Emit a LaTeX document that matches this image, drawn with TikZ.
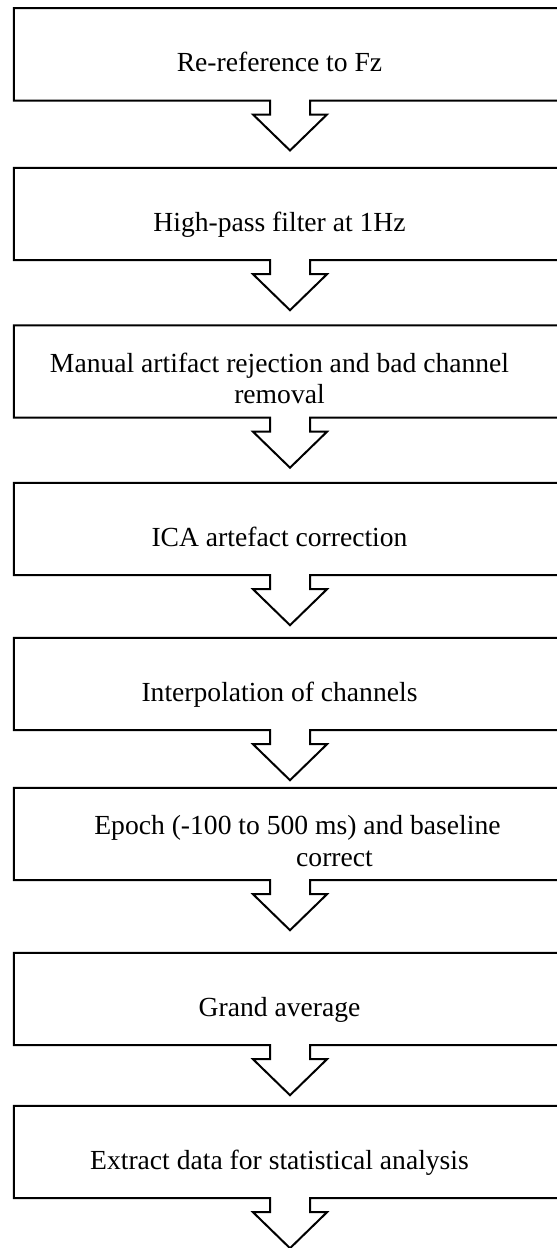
\documentclass[tikz,border=0pt]{standalone}
\usepackage{fontspec}
\setmainfont{Liberation Serif}
\usetikzlibrary{calc}
\begin{document}
\begin{tikzpicture}[x=1pt,y=-1pt,
  stepbox/.style={draw=none, inner sep=0pt, minimum width=531pt, minimum height=92pt,
    font=\fontsize{27.6}{31.6}\selectfont, text height=54.3pt, text depth=20pt},
  twobox/.style={stepbox, align=center, text height=70pt, text depth=5.3pt},
  outline/.style={draw=black, line width=2pt, line join=miter}]
\useasboundingbox (0,0) rectangle (557,1248);
\node[stepbox] (b1) at (279.5,54.3) {Re-reference to Fz};
\node[stepbox] (b2) at (279.5,214) {High-pass filter at 1Hz};
\node[twobox] (b3) at (279.5,371.5) {Manual artifact rejection and bad channel\\removal};
\node[stepbox] (b4) at (279.5,529) {ICA artefact correction};
\node[stepbox] (b5) at (279.5,684) {Interpolation of channels};
\node[twobox] (b6) at (279.5,834) {\hspace*{36pt}Epoch (-100 to 500 ms) and baseline\\\hspace*{110pt}correct};
\node[stepbox] (b7) at (279.5,999) {Grand average};
\node[stepbox] (b8) at (279.5,1152) {Extract data for statistical analysis};
\foreach \n in {b1,b2,b3,b4,b5,b6,b7,b8} {
  \draw[outline] ([xshift=-9.5pt]\n.south) -- (\n.south west) -- (\n.north west)
    -- ([xshift=60pt]\n.north east) -- ([xshift=60pt]\n.south east)
    -- ([xshift=30.5pt]\n.south) -- ++(0,14) -- ++(17,0) -- ++(-37,36)
    -- ++(-37,-36) -- ++(17,0) -- cycle;
}
\end{tikzpicture}
\end{document}
